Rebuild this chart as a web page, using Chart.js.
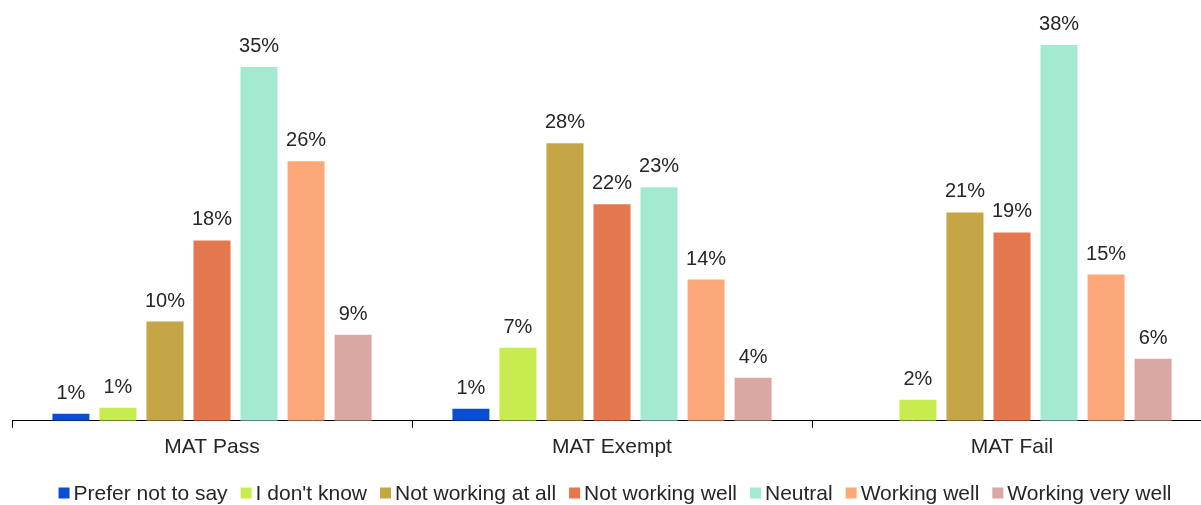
<!DOCTYPE html>
<html lang="en">
<head>
<meta charset="UTF-8">
<title>MAT outcome responses</title>
<script src="https://cdn.jsdelivr.net/npm/chart.js"></script>
<style>
  html, body { margin: 0; padding: 0; background: #fff; overflow: hidden; }
  #wrap { width: 1212px; height: 505px; }
</style>
</head>
<body>
<div id="wrap"><canvas id="chart" width="1212" height="505"></canvas></div>
<script>
// categories and series (percent of respondents)
const categories = ['MAT Pass', 'MAT Exempt', 'MAT Fail'];
const seriesNames = ['Prefer not to say', "I don't know", 'Not working at all', 'Not working well', 'Neutral', 'Working well', 'Working very well'];
const preferNotToSay  = [0.7, 1.2, null];
const dontKnow        = [1.3, 7.3, 2.1];
const notWorkingAtAll = [9.9, 27.7, 20.8];
const notWorkingWell  = [18.0, 21.6, 18.8];
const neutral         = [35.3, 23.3, 37.5];
const workingWell     = [25.9, 14.1, 14.6];
const workingVeryWell = [8.6, 4.3, 6.2];

const seriesValues = [preferNotToSay, dontKnow, notWorkingAtAll, notWorkingWell, neutral, workingWell, workingVeryWell];
const colors = ['#0a4fd2', '#c8eb50', '#c4a647', '#e4774d', '#a3ead0', '#fda878', '#d9a8a2'];

const FONT = '"Liberation Sans", Arial, sans-serif';
const TEXT = '#262626';

// draw the rounded percentage over each bar
const barLabels = {
    id: 'barLabels',
    afterDatasetsDraw(chart) {
        const ctx = chart.ctx;
        ctx.save();
        ctx.font = '20px ' + FONT;
        ctx.fillStyle = TEXT;
        ctx.textAlign = 'center';
        ctx.textBaseline = 'alphabetic';
        chart.data.datasets.forEach((ds, i) => {
            chart.getDatasetMeta(i).data.forEach((bar, j) => {
                const v = ds.data[j];
                if (v === null || v === undefined) return;
                ctx.fillText(Math.round(v) + '%', bar.x, bar.y - 15);
            });
        });
        ctx.restore();
    }
};

// compact legend along the bottom: small square, tight gap, label
const bottomLegend = {
    id: 'bottomLegend',
    afterDraw(chart) {
        const ctx = chart.ctx;
        const box = 11, gap = 4, spacing = 13, y = 493;
        ctx.save();
        ctx.font = '21px ' + FONT;
        ctx.textBaseline = 'middle';
        ctx.textAlign = 'left';
        const items = chart.data.datasets.map(ds => ({
            text: ds.label, color: ds.backgroundColor, w: ctx.measureText(ds.label).width
        }));
        const total = items.reduce((s, it) => s + box + gap + it.w, 0) + spacing * (items.length - 1);
        let x = (chart.chartArea.left + chart.chartArea.right) / 2 + 3 - total / 2;
        items.forEach(it => {
            ctx.fillStyle = it.color;
            ctx.fillRect(x, y - box / 2, box, box);
            ctx.fillStyle = TEXT;
            ctx.fillText(it.text, x + box + gap, y + 1);
            x += box + gap + it.w + spacing;
        });
        ctx.restore();
    }
};

new Chart(document.getElementById('chart'), {
    type: 'bar',
    data: {
        labels: categories,
        datasets: seriesNames.map((name, i) => ({
            label: name,
            data: seriesValues[i],
            backgroundColor: colors[i],
            borderWidth: 0,
            categoryPercentage: 0.823,
            barPercentage: 0.787
        }))
    },
    plugins: [barLabels, bottomLegend],
    options: {
        responsive: false,
        animation: false,
        layout: { padding: { top: 20, left: 12, right: 0, bottom: 38 } },
        scales: {
            x: {
                grid: {
                    offset: true,
                    drawOnChartArea: false,
                    drawTicks: true,
                    tickLength: 7,
                    color: '#000'
                },
                border: { display: true, color: '#000', width: 1 },
                ticks: { color: TEXT, font: { size: 21, family: FONT }, padding: 7 }
            },
            y: {
                display: false,
                min: 0,
                max: 40
            }
        },
        plugins: {
            legend: { display: false },
            tooltip: { enabled: false }
        }
    }
});
</script>
</body>
</html>
